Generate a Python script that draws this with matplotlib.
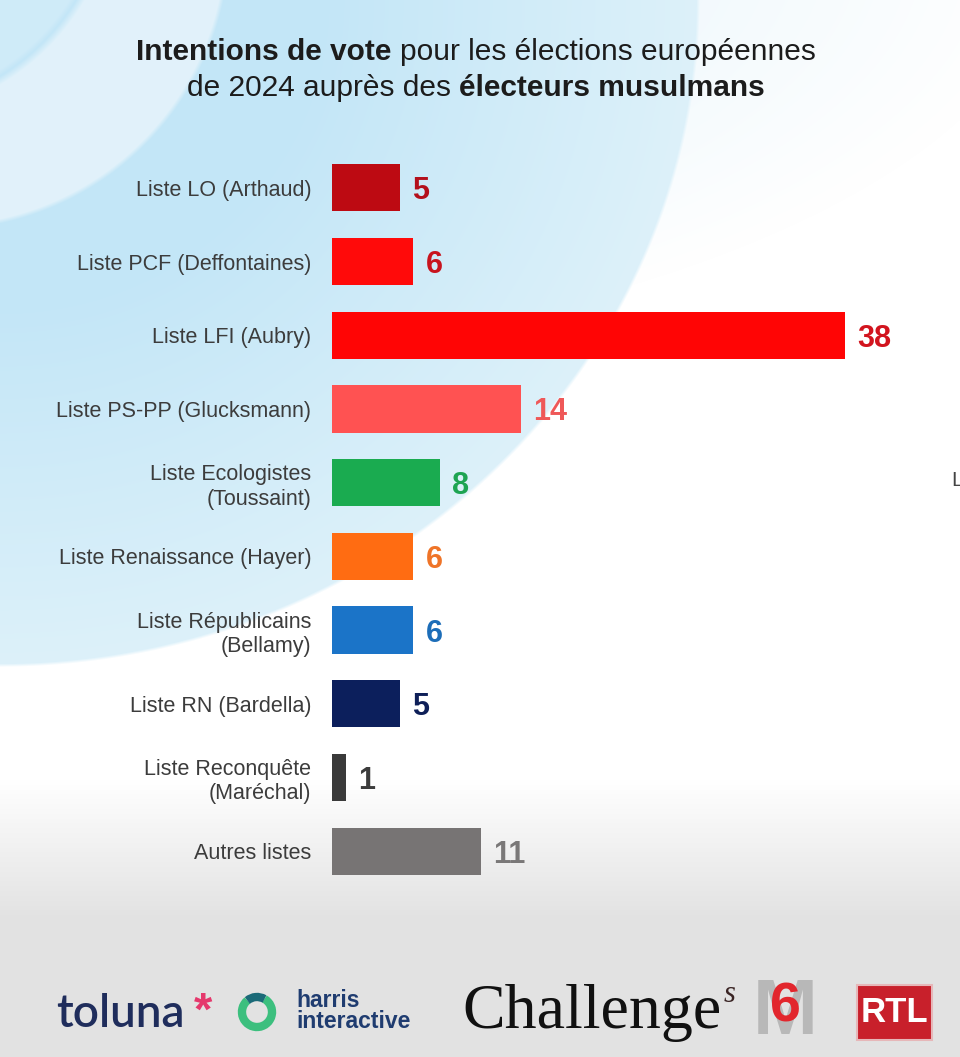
import numpy as np
import matplotlib
matplotlib.use("Agg")
import matplotlib.pyplot as plt
from matplotlib.patches import Rectangle, Arc

plt.rcParams["font.family"] = ["Liberation Sans", "DejaVu Sans"]

# ---- data ----
listes = ["Liste LO (Arthaud)", "Liste PCF (Deffontaines)", "Liste LFI (Aubry)",
          "Liste PS-PP (Glucksmann)", "Liste Ecologistes\n(Toussaint)",
          "Liste Renaissance (Hayer)", "Liste Républicains\n(Bellamy)",
          "Liste RN (Bardella)", "Liste Reconquête\n(Maréchal)", "Autres listes"]
intentions = [5, 6, 38, 14, 8, 6, 6, 5, 1, 11]
bar_colors = ["#bd0a12", "#ff0a0a", "#ff0505", "#ff5252", "#1aab50",
              "#ff6c12", "#1b74c8", "#0c1f5c", "#3a3a3a", "#777474"]
value_colors = ["#b3101c", "#c8141e", "#d2141e", "#ef5858", "#1ea452",
                "#ef7428", "#1c6db8", "#0e1f58", "#3c3c3c", "#7a7878"]

W, H = 960, 1057
fig = plt.figure(figsize=(W / 100, H / 100), dpi=100)

# ---- background (pixel coordinates) ----
bg = fig.add_axes([0, 0, 1, 1])
bg.set_xlim(0, W)
bg.set_ylim(H, 0)
bg.axis("off")

yy, xx = np.mgrid[0:H, 0:W] + 0.5
img = np.ones((H, W, 3))


def blend(img, mask, color):
    c = np.array(matplotlib.colors.to_rgb(color))
    return img * (1 - mask[..., None]) + c * mask[..., None]


# faint tint top right
d_far = np.sqrt((xx / 1050) ** 2 + ((yy + 50) / 420) ** 2)
img = blend(img, np.clip((1 - d_far) * 3, 0, 1) * 0.5, "#e6f4fb")

# main blue swoosh
d = np.sqrt((xx / 700) ** 2 + (yy / 667) ** 2)
edge = np.clip((1 - d) * 200, 0, 1)
t = np.clip((d - 0.45) / 0.55, 0, 1)[..., None]
c0 = np.array(matplotlib.colors.to_rgb("#c3e6f7"))
c1 = np.array(matplotlib.colors.to_rgb("#ddf1fa"))
blue = c0 * (1 - t) + c1 * t
img = img * (1 - edge[..., None]) + blue * edge[..., None]

# lighter crescent upper left
dA = np.sqrt((xx + 60) ** 2 + (yy + 60) ** 2) / 290
dB = np.sqrt((xx + 120) ** 2 + (yy + 120) ** 2) / 230
cres = np.clip((1 - dA) * 60, 0, 1) * np.clip((dB - 1) * 30, 0, 1)
img = blend(img, cres * 0.7, "#eef7fc")
img = blend(img, np.clip((1 - dB) * 40, 0, 1) * 0.5, "#dcf0fa")

# grey band at bottom
g = np.clip((yy - 780) / 140, 0, 1)
img = blend(img, g, "#e2e2e2")

bg.imshow(img, extent=(0, W, H, 0), aspect="auto", zorder=0)

# ---- bar chart ----
px_per_unit = 13.5
x0, x1 = 332, 900
top, bottom = 151, 888
ax = fig.add_axes([x0 / W, 1 - bottom / H, (x1 - x0) / W, (bottom - top) / H])
ax.patch.set_alpha(0)
y_pos = np.arange(len(listes))
ax.barh(y_pos, intentions, height=0.64, color=bar_colors)
ax.set_xlim(0, (x1 - x0) / px_per_unit)
ax.set_ylim(len(listes) - 0.5, -0.5)
ax.set_yticks(y_pos)
ax.set_yticklabels(listes, fontsize=15.5, color="#3c3c3c", linespacing=1.22)
ax.tick_params(axis="y", length=0, pad=15)
ax.set_xticks([])
for s in ax.spines.values():
    s.set_visible(False)
for i, v in enumerate(intentions):
    ax.text(v + 0.92, i, str(v), va="center_baseline", ha="left", fontsize=22,
            fontweight="bold", color=value_colors[i])

# ---- title with mixed weights ----
renderer = fig.canvas.get_renderer()
title_lines = [
    [("Intentions de vote", "bold"), (" pour les élections européennes", "normal")],
    [("de 2024 auprès des ", "normal"), ("électeurs musulmans", "bold")],
]
title_y = [52, 88]
tsize = 21.5
space_px = 0.278 * tsize * 100 / 72
for line, ty in zip(title_lines, title_y):
    pieces = []
    for txt, wt in line:
        lead = txt.startswith(" ")
        trail = txt.endswith(" ")
        tt = bg.text(0, ty, txt.strip(), fontsize=tsize, fontweight=wt,
                     color="#1c1c1c", va="center", ha="left", zorder=5)
        w = tt.get_window_extent(renderer).width
        pieces.append((tt, w, lead, trail))
    total = 0
    for tt, w, lead, trail in pieces:
        total += w + space_px * (lead + trail)
    xpos = 476 - total / 2
    for tt, w, lead, trail in pieces:
        if lead:
            xpos += space_px
        tt.set_x(xpos)
        xpos += w
        if trail:
            xpos += space_px

# cut-off label of the neighbouring chart
bg.text(951, 480, "L", fontsize=15, color="#444444", va="center", ha="left", zorder=5)

# ---- logos ----
navy = "#1f2d5c"
bg.text(56, 1014, "toluna", fontsize=33, color=navy, va="center", ha="left",
        family=["Lato", "DejaVu Sans"], fontweight="semibold", zorder=5)
bg.text(194, 1013, "*", fontsize=34, color="#e5386c", va="center", ha="left",
        fontweight="bold", zorder=5)
bg.add_patch(Arc((257, 1012), 30, 30, theta1=-60, theta2=230, lw=6,
                 color="#3cbf7e", zorder=5))
bg.add_patch(Arc((257, 1012), 30, 30, theta1=230, theta2=300, lw=6,
                 color="#1b6a78", zorder=5))
bg.text(296, 1011, "harris\ninteractive", fontsize=16.5, color="#1f3c70",
        fontweight="bold", va="center", ha="left", linespacing=0.85, zorder=5)
ch = bg.text(462, 1013, "Challenge", fontsize=46, color="#111111", va="center",
             ha="left", family=["Liberation Serif", "DejaVu Serif"], zorder=5)
ch_w = ch.get_window_extent(renderer).width
bg.text(462 + ch_w + 2, 995, "s", fontsize=22, color="#3a2424", style="italic",
        va="center", ha="left", family=["Liberation Serif", "DejaVu Serif"], zorder=5)
bg.text(785, 1014, "M", fontsize=56, color="#b8b8b8", va="center",
        ha="center", fontweight="bold", zorder=5)
bg.text(785, 1008, "6", fontsize=40, color="#e2262d", va="center",
        ha="center", fontweight="bold", zorder=6)
bg.add_patch(Rectangle((857, 985), 75, 55, facecolor="#c8202b",
                       edgecolor="#e6b7b9", lw=1.5, zorder=5))
bg.text(894.5, 1013, "RTL", fontsize=25, color="white", fontweight="bold",
        va="center", ha="center", zorder=6)

fig.savefig("out.png", dpi=100)
